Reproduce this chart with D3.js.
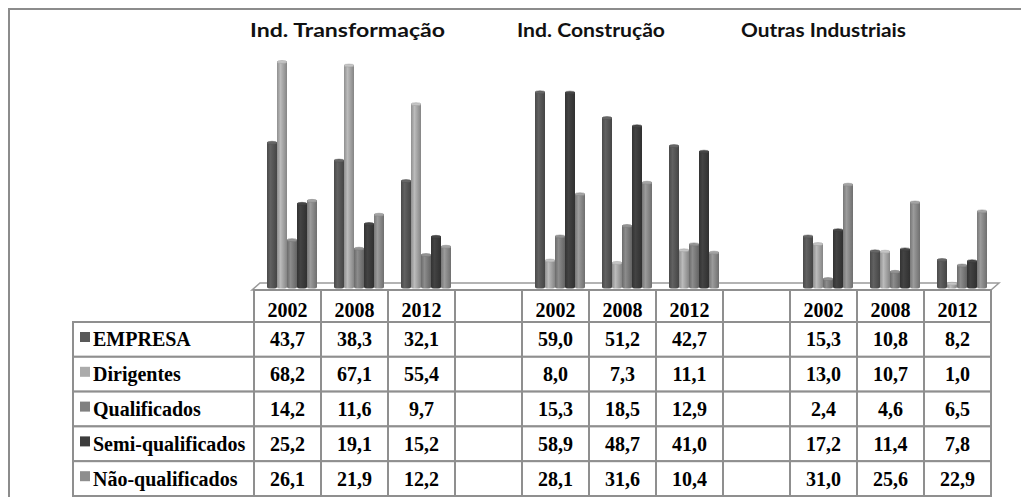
<!DOCTYPE html>
<html>
<head>
<meta charset="utf-8">
<script src="https://cdn.jsdelivr.net/npm/d3@7"></script>
<style>
  body { margin: 0; background: #fff; }
  svg { display: block; }
  .serif { font-family: "Liberation Serif", "Times New Roman", "DejaVu Serif", serif; font-weight: bold; }
  .title { font-family: Lato, "Open Sans", sans-serif; font-weight: bold; }
</style>
</head>
<body>
<script>
// data
var sectors = ["Ind. Transformação", "Ind. Construção", "Outras Industriais"];
var years = ["2002", "2008", "2012"];
var seriesNames = ["EMPRESA", "Dirigentes", "Qualificados", "Semi-qualificados", "Não-qualificados"];
var empresa = [43.7, 38.3, 32.1, 59.0, 51.2, 42.7, 15.3, 10.8, 8.2];
var dirigentes = [68.2, 67.1, 55.4, 8.0, 7.3, 11.1, 13.0, 10.7, 1.0];
var qualificados = [14.2, 11.6, 9.7, 15.3, 18.5, 12.9, 2.4, 4.6, 6.5];
var semiQualificados = [25.2, 19.1, 15.2, 58.9, 48.7, 41.0, 17.2, 11.4, 7.8];
var naoQualificados = [26.1, 21.9, 12.2, 28.1, 31.6, 10.4, 31.0, 25.6, 22.9];
var seriesValues = [empresa, dirigentes, qualificados, semiQualificados, naoQualificados];
var seriesColors = ["#595959", "#ababab", "#808080", "#3d3d3d", "#8e8e8e"];

var W = 1021, H = 497;
var svg = d3.select("body").append("svg").attr("width", W).attr("height", H);

// outer frame
svg.append("rect")
  .attr("x", 9).attr("y", 9).attr("width", W).attr("height", H)
  .attr("fill", "none").attr("stroke", "#8c8c8c").attr("stroke-width", 2);

// columns: 3 years per sector with an empty column between sectors
var cols = [];
sectors.forEach(function(s, si) {
  if (si > 0) cols.push({ key: "gap" + si, gap: true });
  years.forEach(function(y) {
    cols.push({ key: s + "|" + y, year: y, sector: si });
  });
});

var x = d3.scaleBand().domain(cols.map(function(c) { return c.key; })).range([254, 991]);
var inner = d3.scaleBand().domain(seriesNames).range([13, 63]);
var y = d3.scaleLinear().domain([0, 70]).range([287, 56]);

var loc = d3.formatLocale({ decimal: ",", thousands: ".", grouping: [3], currency: ["", ""] });
var fmt = loc.format(".1f");

// gradients for the cylinders
var defs = svg.append("defs");
seriesColors.forEach(function(c, i) {
  var g = defs.append("linearGradient").attr("id", "cyl" + i)
    .attr("x1", "0%").attr("x2", "100%").attr("y1", "0%").attr("y2", "0%");
  g.append("stop").attr("offset", "0%").attr("stop-color", d3.color(c).darker(0.5));
  g.append("stop").attr("offset", "35%").attr("stop-color", d3.color(c).brighter(0.25));
  g.append("stop").attr("offset", "100%").attr("stop-color", d3.color(c).darker(0.7));
});

// floor
var fx0 = x.range()[0], fx1 = x.range()[1];
svg.append("path")
  .attr("d", "M" + (fx0 - 2) + ",290 L" + fx1 + ",290 L" + (fx1 + 8) + ",283 L" + (fx0 + 6) + ",283 Z")
  .attr("fill", "#fff").attr("stroke", "#9a9a9a").attr("stroke-width", 1.5);

// titles
var titleX = [250, 517, 741];
var titleW = [195, 148, 165];
svg.selectAll("text.title").data(sectors).enter().append("text")
  .attr("class", "title")
  .attr("x", function(d, i) { return titleX[i]; })
  .attr("y", 37)
  .attr("font-size", 19)
  .attr("textLength", function(d, i) { return titleW[i]; })
  .attr("lengthAdjust", "spacingAndGlyphs")
  .attr("fill", "#111")
  .text(function(d) { return d; });

// bars
var barData = [];
cols.filter(function(c) { return !c.gap; }).forEach(function(c, ci) {
  seriesNames.forEach(function(s, si) {
    barData.push({ col: c.key, series: s, si: si, v: seriesValues[si][ci] });
  });
});

var bars = svg.append("g").selectAll("g").data(barData).enter().append("g");
bars.append("rect")
  .attr("x", function(d) { return x(d.col) + inner(d.series); })
  .attr("y", function(d) { return y(d.v); })
  .attr("width", inner.bandwidth())
  .attr("height", function(d) { return y(0) - y(d.v); })
  .attr("fill", function(d) { return "url(#cyl" + d.si + ")"; });
bars.append("ellipse")
  .attr("cx", function(d) { return x(d.col) + inner(d.series) + inner.bandwidth() / 2; })
  .attr("cy", function(d) { return y(0); })
  .attr("rx", inner.bandwidth() / 2)
  .attr("ry", 1.5)
  .attr("fill", function(d) { return "url(#cyl" + d.si + ")"; });
bars.append("ellipse")
  .attr("cx", function(d) { return x(d.col) + inner(d.series) + inner.bandwidth() / 2; })
  .attr("cy", function(d) { return y(d.v); })
  .attr("rx", inner.bandwidth() / 2)
  .attr("ry", 1.5)
  .attr("fill", function(d) { return d3.color(seriesColors[d.si]).brighter(0.4); })
  .attr("stroke", function(d) { return d3.color(seriesColors[d.si]).darker(0.3); })
  .attr("stroke-width", 0.5);

// table
var lineColor = "#8f8f8f";
var headTop = 290, rowTop = 322, rowH = 34.8, labelX0 = 73;
var fs = 20;
var tbl = svg.append("g");

// header cells
tbl.selectAll("rect.head").data(cols).enter().append("rect")
  .attr("x", function(d) { return x(d.key); })
  .attr("y", headTop)
  .attr("width", x.bandwidth())
  .attr("height", rowTop - headTop)
  .attr("fill", "#fff").attr("stroke", lineColor).attr("stroke-width", 2);
tbl.selectAll("text.head").data(cols.filter(function(c) { return !c.gap; })).enter().append("text")
  .attr("class", "serif")
  .attr("x", function(d) { return x(d.key) + x.bandwidth() / 2; })
  .attr("y", rowTop - 5)
  .attr("text-anchor", "middle")
  .attr("font-size", fs)
  .text(function(d) { return d.year; });

// body rows
seriesNames.forEach(function(s, si) {
  var top = rowTop + si * rowH;
  tbl.append("rect")
    .attr("x", labelX0).attr("y", top)
    .attr("width", x.range()[0] - labelX0).attr("height", rowH)
    .attr("fill", "#fff").attr("stroke", lineColor).attr("stroke-width", 2);
  tbl.append("rect")
    .attr("x", labelX0 + 7).attr("y", top + 10)
    .attr("width", 10).attr("height", 10)
    .attr("fill", seriesColors[si]);
  tbl.append("text")
    .attr("class", "serif")
    .attr("x", labelX0 + 20).attr("y", top + rowH / 2 + 7)
    .attr("font-size", fs)
    .text(s);
  var ci = 0;
  cols.forEach(function(c) {
    tbl.append("rect")
      .attr("x", x(c.key)).attr("y", top)
      .attr("width", x.bandwidth()).attr("height", rowH)
      .attr("fill", "#fff").attr("stroke", lineColor).attr("stroke-width", 2);
    if (!c.gap) {
      tbl.append("text")
        .attr("class", "serif")
        .attr("x", x(c.key) + x.bandwidth() / 2)
        .attr("y", top + rowH / 2 + 7)
        .attr("text-anchor", "middle")
        .attr("font-size", fs)
        .text(fmt(seriesValues[si][ci]));
      ci++;
    }
  });
});
</script>
</body>
</html>
